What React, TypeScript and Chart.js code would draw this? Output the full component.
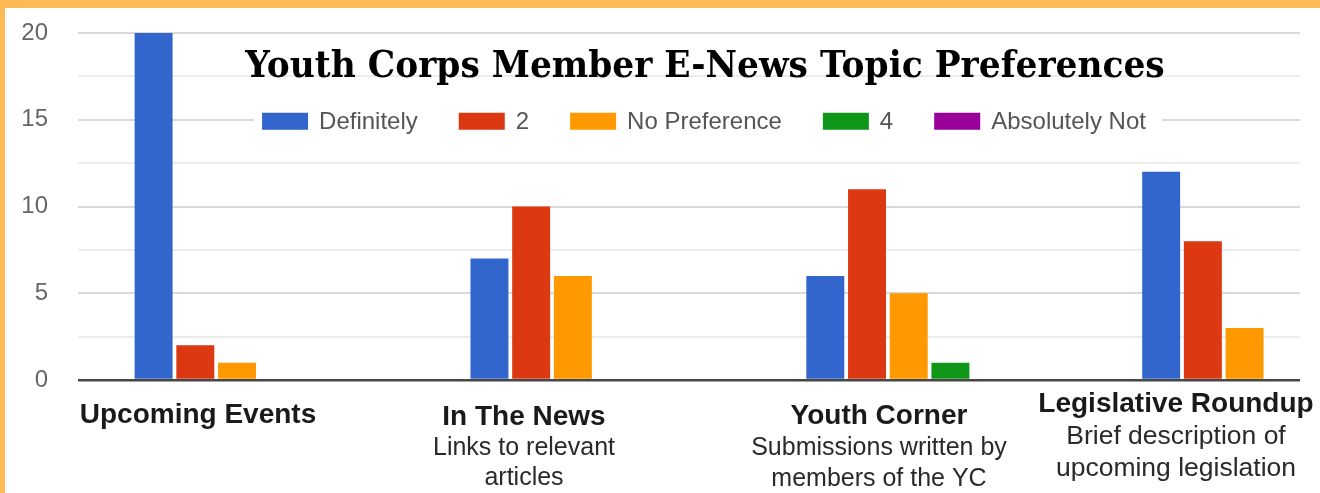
import { useEffect, useRef } from 'react';
import { Chart, registerables } from 'chart.js';

Chart.register(...registerables);

// ---------- data ----------
const chartTitle = 'Youth Corps Member E-News Topic Preferences';
const categories = ['Upcoming Events', 'In The News', 'Youth Corner', 'Legislative Roundup'];
const categoryNotes = [
  [] as string[],
  ['Links to relevant', 'articles'],
  ['Submissions written by', 'members of the YC'],
  ['Brief description of', 'upcoming legislation'],
];
const seriesNames = ['Definitely', '2', 'No Preference', '4', 'Absolutely Not'];
const definitely = [20, 7, 6, 12];
const two = [2, 10, 11, 8];
const noPreference = [1, 6, 5, 3];
const four = [0, 0, 1, 0];
const absolutelyNot = [0, 0, 0, 0];
const yTickLabels = [0, 5, 10, 15, 20];

// ---------- styles / layout ----------
const seriesColors = ['#3366CC', '#DC3912', '#FF9900', '#109618', '#990099'];
const ORANGE = '#FDBA56';
const labelLayout = [
  { cx: 198, base: 423, sub: 25, pitch: 30 },
  { cx: 524, base: 425, sub: 25, pitch: 30 },
  { cx: 879, base: 424, sub: 25, pitch: 31 },
  { cx: 1176, base: 412, sub: 26.5, pitch: 32 },
];

const overlayPlugin = {
  id: 'overlay',
  afterDraw(chart: any) {
    const ctx = chart.ctx as CanvasRenderingContext2D;
    ctx.save();

    // Title
    ctx.font = 'bold 40px "DejaVu Serif"';
    const w40 = ctx.measureText(chartTitle).width;
    const tSize = (40 * 920) / w40;
    ctx.font = `bold ${tSize}px "DejaVu Serif"`;
    ctx.fillStyle = '#000';
    ctx.textAlign = 'center';
    ctx.textBaseline = 'alphabetic';
    ctx.save();
    ctx.translate(705, 77);
    ctx.scale(1, 1.08);
    ctx.fillText(chartTitle, 0, 0);
    ctx.restore();

    // Legend
    const yScale = chart.scales.y;
    const legendY = yScale.getPixelForValue(15) + 1.5;
    ctx.font = '24px "Liberation Sans"';
    const boxW = 46, boxH = 17, gapBT = 11, gapItem = 41;
    const items = chart.data.datasets.map((d: any) => ({
      label: d.label as string,
      color: d.backgroundColor as string,
      tw: ctx.measureText(d.label).width,
    }));
    const total = items.reduce((s: number, it: any, i: number) => s + boxW + gapBT + it.tw + (i < items.length - 1 ? gapItem : 0), 0);
    let x = 704 - total / 2;
    ctx.fillStyle = '#fff';
    ctx.fillRect(x - 8, legendY - 16, total + 24, 32);
    ctx.textAlign = 'left';
    ctx.textBaseline = 'middle';
    items.forEach((it: any) => {
      ctx.fillStyle = it.color;
      ctx.fillRect(x, legendY - boxH / 2, boxW, boxH);
      x += boxW + gapBT;
      ctx.fillStyle = '#555';
      ctx.fillText(it.label, x, legendY + 1);
      x += it.tw + gapItem;
    });

    // Category labels
    ctx.textAlign = 'center';
    ctx.textBaseline = 'alphabetic';
    categories.forEach((c, i) => {
      const L = labelLayout[i];
      ctx.font = 'bold 28px "Liberation Sans"';
      ctx.fillStyle = '#1a1a1a';
      ctx.fillText(c, L.cx, L.base);
      ctx.font = `${L.sub}px "Liberation Sans"`;
      ctx.fillStyle = '#2a2a2a';
      categoryNotes[i].forEach((n, j) => {
        ctx.fillText(n, L.cx, L.base + L.pitch * (j + 1));
      });
    });
    ctx.restore();
  },
};

export default function App() {
  const canvasRef = useRef<HTMLCanvasElement | null>(null);

  useEffect(() => {
    if (!canvasRef.current) return;
    const series = [definitely, two, noPreference, four, absolutelyNot];
    const chart = new Chart(canvasRef.current, {
      type: 'bar',
      data: {
        datasets: series.map((vals, s) => ({
          label: seriesNames[s],
          data: vals.map((v, i) => ({ x: i, y: v })),
          backgroundColor: seriesColors[s],
          borderWidth: 0,
          categoryPercentage: 0.621,
          barPercentage: 0.91,
        })),
      },
      options: {
        animation: false,
        responsive: true,
        maintainAspectRatio: false,
        events: [],
        layout: { padding: { left: 0, top: 33, right: 20, bottom: 113 } },
        plugins: {
          legend: { display: false },
          title: { display: false },
          tooltip: { enabled: false },
        },
        scales: {
          x: {
            type: 'linear',
            display: false,
            offset: false,
            bounds: 'data',
            grid: { offset: false },
            min: -0.4735,
            max: 3.165,
            afterBuildTicks: (s: any) => {
              s.ticks = categories.map((_, i) => ({ value: i }));
            },
          },
          y: {
            min: 0,
            max: 20,
            afterFit: (s: any) => {
              s.width = 78;
              s.paddingTop = 12;
              s.paddingBottom = 12;
            },
            border: { display: false },
            grid: {
              drawTicks: false,
              tickLength: 0,
              color: (c: any) =>
                c.tick && c.tick.value === 0
                  ? '#474747'
                  : c.tick && yTickLabels.includes(c.tick.value)
                  ? '#d9d9d9'
                  : '#ececec',
              lineWidth: (c: any) => (c.tick && c.tick.value === 0 ? 2.5 : 2),
            },
            ticks: {
              stepSize: 2.5,
              padding: 30,
              color: '#666',
              font: { family: 'Liberation Sans', size: 24 },
              callback: (v: any) => (yTickLabels.includes(Number(v)) ? String(v) : ''),
            },
          },
        },
      },
      plugins: [overlayPlugin],
    } as any);
    return () => chart.destroy();
  }, []);

  return (
    <div style={{ position: 'absolute', left: 0, top: 0, width: 1320, height: 493, background: ORANGE, overflow: 'hidden' }}>
      <div style={{ position: 'absolute', left: 5, top: 8, right: 0, bottom: 0, background: '#fff' }} />
      <div style={{ position: 'absolute', left: 0, top: 0, width: 1320, height: 493 }}>
        <canvas ref={canvasRef} />
      </div>
    </div>
  );
}
